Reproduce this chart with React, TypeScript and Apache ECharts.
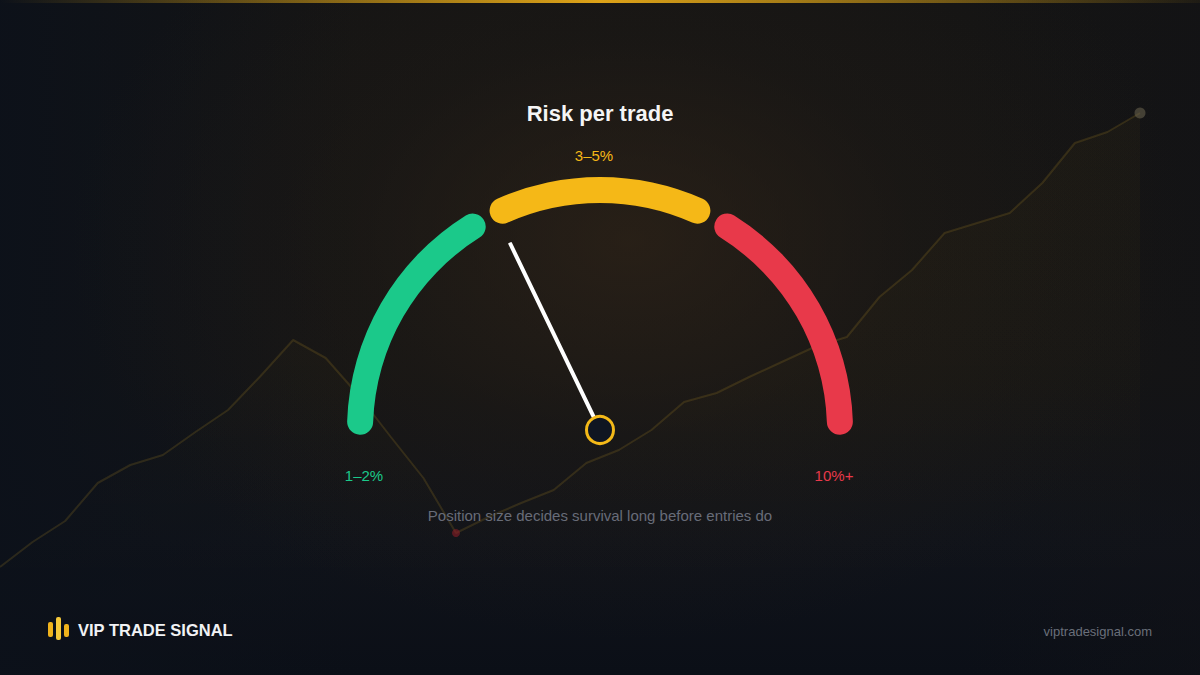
import React, { useEffect, useRef } from "react";
import * as echarts from "echarts";

// ---- Data ----
const chartTitle = "Risk per trade";
const subtitle = "Position size decides survival long before entries do";
const brandName = "VIP TRADE SIGNAL";
const brandUrl = "viptradesignal.com";

// Gauge zones (fraction of the half circle) and labels
const zoneLabels = ["1–2%", "3–5%", "10%+"];
const zoneColors = ["#1BC98A", "#F5B817", "#E8394A"];
const zoneStarts = [0.011, 0.367, 0.678];
const zoneEnds = [0.322, 0.633, 0.989];
const needleValue = [0.357];

// Background equity curve
const curveX = Array.from({ length: 36 }, (_, i) => String(i + 1));
const curveValues = [
  6.6, 11.6, 15.8, 23.4, 27.0, 29.0, 33.6, 38.0, 44.8, 52.0, 48.4, 41.0, 32.6,
  24.4, 13.4, 16.6, 19.4, 22.0, 27.4, 30.0, 34.0, 39.6, 41.4, 44.6, 47.6, 50.6,
  52.6, 60.6, 66.0, 73.4, 75.4, 77.4, 83.4, 91.4, 93.6, 97.4,
];
const drawdownLowIndex = 14;

const FONT = 'Helvetica, "Liberation Sans", Arial, sans-serif';

export default function App() {
  const ref = useRef<HTMLDivElement>(null);

  useEffect(() => {
    document.body.style.margin = "0";
    if (!ref.current) return;
    const chart = echarts.init(ref.current, undefined, { renderer: "svg" });

    const stops: [number, string][] = [];
    for (let i = 0; i < zoneStarts.length; i++) {
      stops.push([zoneStarts[i], "transparent"]);
      stops.push([zoneEnds[i], zoneColors[i]]);
    }
    stops.push([1, "transparent"]);

    const lastIdx = curveValues.length - 1;
    const curveData = curveValues.map((v, i) => {
      if (i === lastIdx)
        return { value: v, symbolSize: 11, itemStyle: { color: "rgba(110,102,80,0.55)" } };
      if (i === drawdownLowIndex)
        return { value: v, symbolSize: 8, itemStyle: { color: "rgba(150,30,40,0.55)" } };
      return { value: v };
    });

    const txt = (x: number, y: number, text: string, fill: string, font: string, align = "center") => ({
      type: "text",
      x,
      y,
      style: { text, fill, font, textAlign: align, textVerticalAlign: "middle" },
      z: 10,
    });

    const option: any = {
      animation: false,
      backgroundColor: "transparent",
      grid: { left: 0, right: 60, top: 100, bottom: 75 },
      xAxis: { type: "category", data: curveX, boundaryGap: false, show: false },
      yAxis: { type: "value", min: 0, max: 100, show: false },
      graphic: [
        {
          type: "rect",
          shape: { x: 0, y: 0, width: 1200, height: 3 },
          style: {
            fill: new echarts.graphic.LinearGradient(0, 0, 1, 0, [
              { offset: 0, color: "rgba(244,185,24,0)" },
              { offset: 0.5, color: "rgba(232,170,24,0.95)" },
              { offset: 1, color: "rgba(244,185,24,0.05)" },
            ]),
          },
          z: 10,
        },
        txt(600, 113, chartTitle, "#F5F5F5", `bold 22px ${FONT}`),
        txt(594, 155, zoneLabels[1], zoneColors[1], `15px ${FONT}`),
        txt(364, 475, zoneLabels[0], zoneColors[0], `15px ${FONT}`),
        txt(834, 475, zoneLabels[2], zoneColors[2], `15px ${FONT}`),
        txt(600, 515, subtitle, "#686C78", `15px ${FONT}`),
        {
          type: "rect",
          shape: { x: 48, y: 622, width: 5, height: 15, r: 2 },
          style: { fill: "#F0B31C" },
          z: 10,
        },
        {
          type: "rect",
          shape: { x: 56, y: 617, width: 5, height: 23, r: 2 },
          style: { fill: "#F6C93A" },
          z: 10,
        },
        {
          type: "rect",
          shape: { x: 64, y: 624, width: 5, height: 13, r: 2 },
          style: { fill: "#F0B31C" },
          z: 10,
        },
        txt(78, 630, brandName, "#F1F2F4", `bold 16.5px ${FONT}`, "left"),
        txt(1152, 631, brandUrl, "#6A6F7A", `13px ${FONT}`, "right"),
      ],
      series: [
        {
          type: "line",
          data: curveData,
          symbol: "circle",
          symbolSize: 0,
          showSymbol: true,
          smooth: false,
          lineStyle: { color: "rgba(190,150,40,0.18)", width: 2 },
          itemStyle: { color: "rgba(190,150,40,0.18)" },
          areaStyle: {
            color: new echarts.graphic.LinearGradient(0, 0, 0, 1, [
              { offset: 0, color: "rgba(244,185,24,0.045)" },
              { offset: 1, color: "rgba(244,185,24,0)" },
            ]),
          },
          silent: true,
          z: 1,
        },
        {
          type: "gauge",
          center: [600, 430],
          radius: 253,
          startAngle: 180,
          endAngle: 0,
          min: 0,
          max: 1,
          splitNumber: 1,
          axisLine: { show: true, roundCap: true, lineStyle: { width: 26, color: stops } },
          splitLine: { show: false },
          axisTick: { show: false },
          axisLabel: { show: false },
          progress: { show: false },
          pointer: {
            show: true,
            icon: "roundRect",
            length: 208,
            width: 4,
            itemStyle: { color: "#FFFFFF" },
          },
          anchor: {
            show: true,
            showAbove: true,
            size: 27,
            itemStyle: { color: "#0F1521", borderColor: "#F4B918", borderWidth: 3 },
          },
          title: { show: false },
          detail: { show: false },
          data: needleValue.map((v) => ({ value: v })),
          z: 5,
        },
      ],
    };

    chart.setOption(option);
    return () => chart.dispose();
  }, []);

  return (
    <div
      style={{
        width: 1200,
        height: 675,
        position: "relative",
        background:
          "radial-gradient(ellipse 560px 400px at 630px 240px, rgba(48,36,24,0.7) 0%, rgba(38,30,22,0.3) 50%, rgba(0,0,0,0) 100%)," +
          "linear-gradient(90deg, rgba(12,17,26,0.9) 0%, rgba(12,17,26,0) 30%, rgba(0,0,0,0) 80%, rgba(18,18,22,0.4) 100%)," +
          "linear-gradient(180deg, #141414 0%, #151515 55%, #10131a 80%, #0b0f17 100%)",
      }}
    >
      <div ref={ref} style={{ width: 1200, height: 675 }} />
    </div>
  );
}
